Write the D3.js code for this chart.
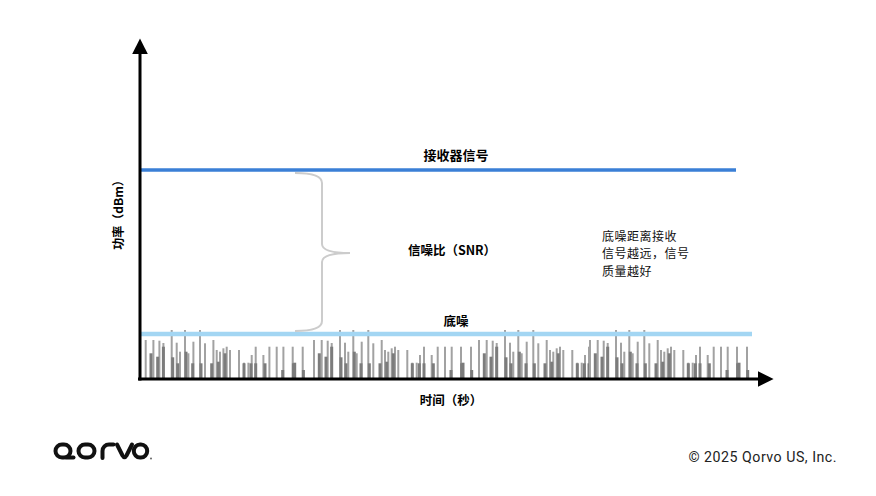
<!DOCTYPE html>
<html><head><meta charset="utf-8">
<script src="https://cdn.jsdelivr.net/npm/d3@7/dist/d3.min.js"></script>
<style>
html,body{margin:0;padding:0;background:#fff;}
svg{display:block;}
</style></head>
<body>
<svg id="chart" width="876" height="496"></svg>
<script>
// ---- data (arbitrary units) ----
const timeDomain = [0, 634];
const powerDomain = [0, 335];
const signalLevel = 209;        // 接收器信号
const signalEnd = 596;
const noiseFloorLevel = 45;     // 底噪
const noiseFloorEnd = 612;
// noise pattern (repeated bursts)
const noiseLineOffsets = [0, 7.7, 13.7, 17.7, 26, 31, 34.3, 39.3, 42.7, 47.7, 54.3, 59.3, 67.7, 71, 74.3, 77.7, 81, 84.3, 93.3, 98.3, 102.7, 106, 110, 117.7, 123.7, 131, 137.7, 147, 157];
const noiseLineLevels  = [39, 39, 38.3, 36, 49, 36.3, 27.3, 49, 25.7, 37.3, 49, 35.7, 39, 29, 27.3, 30.7, 32.3, 29, 29, 16.3, 16.3, 24, 32.3, 24, 32.3, 32.3, 32.3, 32.3, 32.3];
const noiseBodyOffsets = [5.3, 12, 17.7, 27, 32, 40.3, 47, 55.3, 66, 72.7, 79.3, 98.3, 105.3, 110, 119.3, 137, 147.7, 149, 157.7];
const noiseBodyLevels  = [25.7, 22.3, 32.3, 21.7, 15.7, 27.3, 15.7, 15.7, 15.7, 17.3, 25.7, 15.7, 15.7, 15.7, 15.7, 9, 15.7, 16.3, 9];
const burstStarts  = [5.7, 174, 339, 450];
const burstLengths = [168, 168, 111, 166];

const labels = {
  signal: "接收器信号",
  snr: "信噪比（SNR）",
  noise: "底噪",
  note: ["底噪距离接收", "信号越远，信号", "质量越好"],
  xTitle: "时间（秒）",
  yTitle: "功率（dBm）",
  copyright: "© 2025 Qorvo US, Inc."
};

// ---- drawing ----
const svg = d3.select("#chart");
const x = d3.scaleLinear().domain(timeDomain).range([140, 774]);
const y = d3.scaleLinear().domain(powerDomain).range([379, 44]);
const cjk = "'Noto Sans CJK SC','Noto Sans',sans-serif";

const defs = svg.append("defs");
defs.append("marker").attr("id","arrow").attr("viewBox","0 0 10 10")
  .attr("refX",0).attr("refY",5).attr("markerWidth",5.2).attr("markerHeight",5.2)
  .attr("markerUnits","strokeWidth").attr("orient","auto")
  .append("path").attr("d","M0,0 L10,5 L0,10 Z").attr("fill","#000");

// noise bars
const noiseG = svg.append("g");
burstStarts.forEach((s, bi) => {
  noiseLineOffsets.forEach((o, i) => {
    if (o >= burstLengths[bi]) return;
    const xv = x(s + o);
    noiseG.append("rect").attr("x", xv - 1).attr("width", 2)
      .attr("y", y(noiseLineLevels[i])).attr("height", y(0) - y(noiseLineLevels[i]))
      .attr("fill", "#a2a2a2");
  });
  noiseBodyOffsets.forEach((o, i) => {
    if (o >= burstLengths[bi]) return;
    const xv = x(s + o);
    noiseG.append("rect").attr("x", xv - 1.5).attr("width", 3)
      .attr("y", y(noiseBodyLevels[i])).attr("height", y(0) - y(noiseBodyLevels[i]))
      .attr("fill", "#7c7c7c");
  });
});

// noise floor line
svg.append("line").attr("x1", x(0)).attr("x2", x(noiseFloorEnd))
  .attr("y1", y(noiseFloorLevel)).attr("y2", y(noiseFloorLevel))
  .attr("stroke", "#a3d6f3").attr("stroke-width", 4.5);
// signal line
svg.append("line").attr("x1", x(0)).attr("x2", x(signalEnd))
  .attr("y1", y(signalLevel)).attr("y2", y(signalLevel))
  .attr("stroke", "#3a7fd6").attr("stroke-width", 3.5);

// axes
const xAxis = d3.axisBottom(x).tickValues([]).tickSizeOuter(0);
const yAxis = d3.axisLeft(y).tickValues([]).tickSizeOuter(0);
const gx = svg.append("g").attr("transform", `translate(0,${y(0)})`).call(xAxis);
gx.select(".domain").remove();
gx.append("line").attr("x1", x(0) - 2).attr("x2", x(timeDomain[1]) - 16)
  .attr("stroke", "#000").attr("stroke-width", 3).attr("marker-end", "url(#arrow)");
const gy = svg.append("g").attr("transform", `translate(${x(0)},0)`).call(yAxis);
gy.select(".domain").remove();
gy.append("line").attr("y1", y(0) + 1.5).attr("y2", y(powerDomain[1]) + 10)
  .attr("stroke", "#000").attr("stroke-width", 3).attr("marker-end", "url(#arrow)");

// brace
const bt = y(signalLevel) + 3, bb = y(noiseFloorLevel) - 3, bm = (bt + bb) / 2 + 1;
const bx0 = 295, bx1 = 322, bx2 = 350;
svg.append("path")
  .attr("d", `M${bx0},${bt} Q${bx1},${bt} ${bx1},${bt+10} L${bx1},${bm-9} Q${bx1},${bm} ${bx2},${bm} Q${bx1},${bm} ${bx1},${bm+9} L${bx1},${bb-10} Q${bx1},${bb} ${bx0},${bb}`)
  .attr("fill", "none").attr("stroke", "#cccccc").attr("stroke-width", 2);

// labels
svg.append("text").attr("x", 456).attr("y", 160).attr("text-anchor", "middle")
  .attr("font-family", cjk).attr("font-weight", 700).attr("font-size", 13).text(labels.signal);
svg.append("text").attr("x", 452).attr("y", 255).attr("text-anchor", "middle")
  .attr("font-family", cjk).attr("font-weight", 700).attr("font-size", 12.5).text(labels.snr);
svg.append("text").attr("x", 456).attr("y", 326).attr("text-anchor", "middle")
  .attr("font-family", cjk).attr("font-weight", 700).attr("font-size", 12.5).text(labels.noise);
labels.note.forEach((t, i) => {
  svg.append("text").attr("x", 602).attr("y", 240.5 + i * 17.5)
    .attr("font-family", cjk).attr("font-weight", 400).attr("font-size", 12)
    .attr("letter-spacing", 0.5)
    .attr("fill", "#111").text(t);
});
svg.append("text").attr("x", 451).attr("y", 405).attr("text-anchor", "middle")
  .attr("font-family", cjk).attr("font-weight", 700).attr("font-size", 12.5).text(labels.xTitle);
svg.append("text").attr("transform", "translate(123,212) rotate(-90)").attr("text-anchor", "middle")
  .attr("font-family", cjk).attr("font-weight", 700).attr("font-size", 12).text(labels.yTitle);

// copyright
svg.append("text").attr("x", 837).attr("y", 462).attr("text-anchor", "end")
  .attr("font-family", "Roboto, 'DejaVu Sans', sans-serif").attr("font-size", 14.2)
  .attr("letter-spacing", 0.5)
  .attr("fill", "#222").text(labels.copyright);

// qorvo logo
const logo = svg.append("g").attr("fill", "none").attr("stroke", "#111")
  .attr("stroke-width", 4).attr("stroke-linecap", "round").attr("stroke-linejoin", "round");
logo.append("path").attr("d", "M62,444.5 H64 A6.5,6.5 0 0 1 70.5,451 A6.5,6.5 0 0 1 64,457.5 H62 A6.5,6.5 0 0 1 55.5,451 A6.5,6.5 0 0 1 62,444.5 Z");
logo.append("path").attr("d", "M66,457.6 H73.5");
logo.append("path").attr("d", "M85,444.5 H88 A6.5,6.5 0 0 1 94.5,451 A6.5,6.5 0 0 1 88,457.5 H85 A6.5,6.5 0 0 1 78.5,451 A6.5,6.5 0 0 1 85,444.5 Z");
logo.append("path").attr("d", "M102.5,458 V451 A6.5,6.5 0 0 1 109,444.5 H113.5");
logo.append("path").attr("d", "M117,444.5 L122.5,455.5 Q124.5,459 126.5,455.5 L132,444.5");
logo.append("path").attr("d", "M140,444.5 H141 A6.2,6.5 0 0 1 147.2,451 A6.2,6.5 0 0 1 141,457.5 H140 A6.2,6.5 0 0 1 133.8,451 A6.2,6.5 0 0 1 140,444.5 Z");
svg.append("circle").attr("cx", 151).attr("cy", 458.5).attr("r", 0.9).attr("fill", "#555");
</script>
</body></html>
